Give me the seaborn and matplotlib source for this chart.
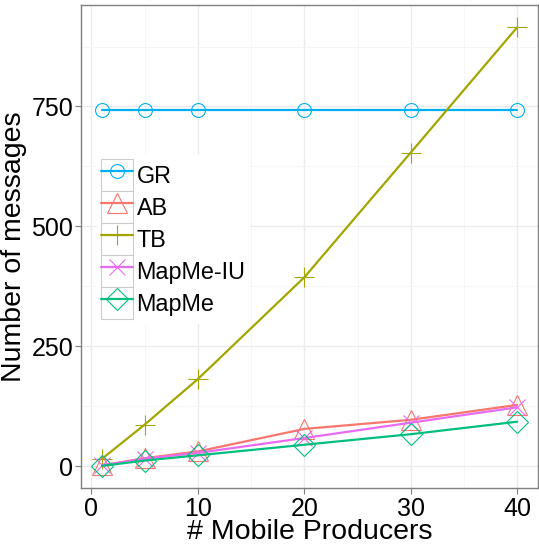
import numpy as np
import pandas as pd
import matplotlib
matplotlib.use("Agg")
import matplotlib.pyplot as plt
import seaborn as sns
from matplotlib.lines import Line2D
from matplotlib.patches import Rectangle
from matplotlib.legend_handler import HandlerLine2D
from matplotlib.ticker import MultipleLocator

# data
producers = [1, 5, 10, 20, 30, 40]
gr = [743, 743, 743, 743, 743, 743]
ab = [2, 17, 31, 78, 97, 128]
tb = [16, 87, 182, 394, 654, 915]
mapme_iu = [2, 16, 28, 59, 91, 123]
mapme = [1, 12, 23, 45, 67, 93]

series_names = ["GR", "AB", "TB", "MapMe-IU", "MapMe"]
series_values = [gr, ab, tb, mapme_iu, mapme]
colors = {"GR": "#00B0F6", "AB": "#F8766D", "TB": "#A3A500",
          "MapMe-IU": "#E76BF3", "MapMe": "#00BF7D"}
markers = {"GR": "o", "AB": "^", "TB": "+", "MapMe-IU": "x", "MapMe": "D"}
msizes = {"GR": 10, "AB": 15, "TB": 15, "MapMe-IU": 12, "MapMe": 11}

rows = []
for name, vals in zip(series_names, series_values):
    for x, y in zip(producers, vals):
        rows.append({"producers": x, "messages": y, "algo": name})
df = pd.DataFrame(rows)

sns.set_style("whitegrid")
plt.rcParams["font.family"] = ["Liberation Sans", "DejaVu Sans"]
plt.rcParams["text.color"] = "black"
plt.rcParams["axes.labelcolor"] = "black"

fig = plt.figure(figsize=(5.39, 5.48), dpi=100)
ax = fig.add_axes([0.151, 0.109, 0.847, 0.881])

# draw so GR sits at the back like the reference
for name in ["GR", "TB", "AB", "MapMe-IU", "MapMe"]:
    sub = df[df["algo"] == name]
    sns.lineplot(data=sub, x="producers", y="messages", ax=ax,
                 color=colors[name], lw=1.6, marker=markers[name],
                 markersize=msizes[name], markerfacecolor="none",
                 markeredgecolor=colors[name], markeredgewidth=0.8,
                 legend=False)

ax.set_xlim(-0.95, 41.95)
ax.set_ylim(-45.7, 960.5)
ax.xaxis.set_major_locator(MultipleLocator(10))
ax.xaxis.set_minor_locator(MultipleLocator(5))
ax.yaxis.set_major_locator(MultipleLocator(250))
ax.set_yticks([125, 375, 625, 875], minor=True)
ax.grid(which="major", color="#ebebeb", lw=1.0)
ax.grid(which="minor", color="#f5f5f5", lw=0.6)
ax.set_axisbelow(True)
for s in ax.spines.values():
    s.set_color("#7f7f7f")
    s.set_linewidth(1.0)
ax.tick_params(axis="both", which="major", length=4, width=0.8,
               color="#7f7f7f", labelcolor="black", labelsize=18, pad=2,
               left=True, bottom=True)
ax.tick_params(which="minor", length=0)

ax.set_xlabel("# Mobile Producers", fontsize=20.5, labelpad=-1)
ax.set_ylabel("Number of messages", fontsize=20.5, labelpad=3)


class BoxedHandler(HandlerLine2D):
    def create_artists(self, legend, orig_handle, xdescent, ydescent,
                       width, height, fontsize, trans):
        arts = super().create_artists(legend, orig_handle, xdescent, ydescent,
                                      width, height, fontsize, trans)
        box = Rectangle((-xdescent, -ydescent), width, height, fc="white",
                        ec="#cccccc", lw=0.8, transform=trans)
        return [box] + list(arts)


handles = [Line2D([], [], color=colors[n], lw=1.6, marker=markers[n],
                  markersize=msizes[n], markerfacecolor="none",
                  markeredgecolor=colors[n], markeredgewidth=0.8)
           for n in series_names]
leg = ax.legend(handles, series_names, loc="upper left",
                bbox_to_anchor=(0.034, 0.69), fontsize=16.8, frameon=True,
                facecolor="white", edgecolor="none", framealpha=1,
                handlelength=1.37, handleheight=1.735, labelspacing=0,
                handletextpad=0.15, borderpad=0.18, borderaxespad=0,
                fancybox=False, handler_map={Line2D: BoxedHandler()})

fig.savefig("out.png", dpi=100)
